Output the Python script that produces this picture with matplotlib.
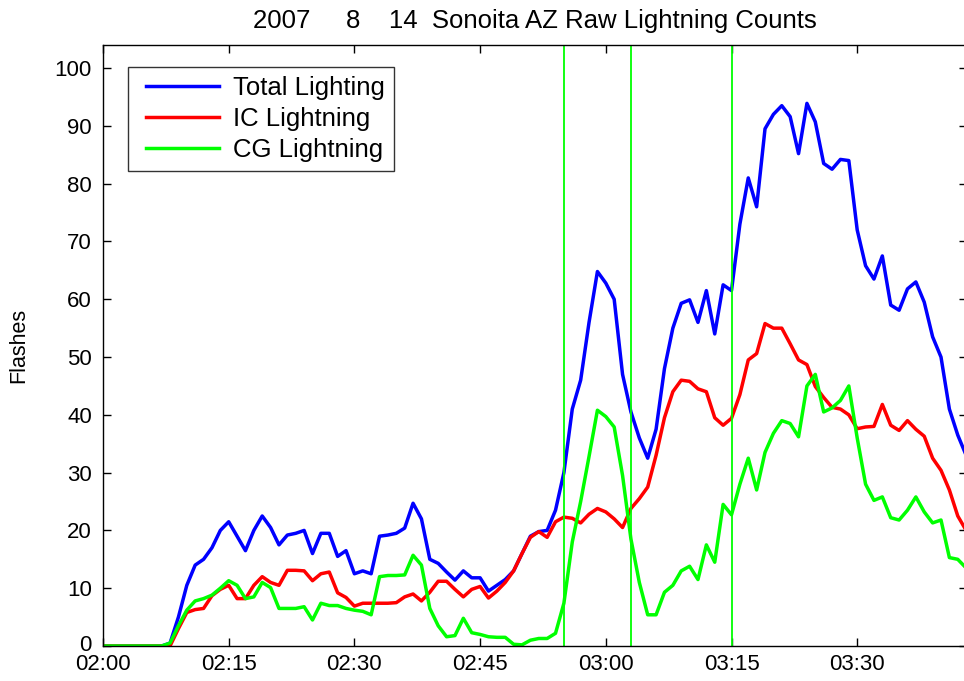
import matplotlib
matplotlib.use("Agg")
import matplotlib.pyplot as plt
import matplotlib.transforms as mtransforms
from matplotlib.legend_handler import HandlerLine2D
import numpy as np

# Minutes after 02:00 UTC, one sample per minute
minutes = list(range(0, 104))

total_flashes = [
    0, 0, 0, 0, 0, 0, 0, 0, 0.5, 5,
    10.5, 14, 15, 17, 20, 21.5, 19, 16.5, 20, 22.5,
    20.5, 17.5, 19.2, 19.5, 20, 16, 19.5, 19.5, 15.5, 16.5,
    12.5, 13, 12.5, 19, 19.2, 19.5, 20.4, 24.7, 22, 15,
    14.3, 12.8, 11.4, 13, 11.8, 11.8, 9.5, 10.5, 11.5, 13,
    16, 19, 19.8, 20, 23.5, 30, 41, 46, 56, 64.8,
    62.8, 60, 47, 40.5, 36, 32.5, 37.5, 48, 55, 59.3,
    59.9, 56, 61.5, 54, 62.5, 61.5, 73, 81, 76, 89.5,
    92, 93.5, 91.6, 85.2, 93.9, 90.7, 83.5, 82.5, 84.2, 84,
    72, 65.8, 63.5, 67.5, 59, 58.1, 61.8, 63, 59.5, 53.5,
    50, 41, 36.5, 33,
]

ic_flashes = [
    0, 0, 0, 0, 0, 0, 0, 0, 0, 3,
    5.8, 6.3, 6.5, 8.7, 9.8, 10.5, 8.2, 8.2, 10.5, 12,
    11, 10.5, 13.1, 13.1, 13, 11.3, 12.5, 12.8, 9.2, 8.4,
    6.9, 7.4, 7.4, 7.4, 7.4, 7.5, 8.5, 9, 7.8, 9.3,
    11.2, 11.2, 9.8, 8.5, 9.8, 10.3, 8.3, 9.5, 11, 13,
    16, 18.8, 19.8, 18.8, 21.5, 22.3, 22.1, 21.3, 22.8, 23.8,
    23.2, 22, 20.5, 23.8, 25.5, 27.5, 33, 39.5, 44, 46,
    45.8, 44.5, 44, 39.5, 38.2, 39.4, 43.5, 49.5, 50.6, 55.8,
    55, 55, 52.3, 49.5, 48.7, 44.9, 43, 41.3, 41, 40,
    37.6, 37.9, 38, 41.8, 38.2, 37.3, 39, 37.5, 36.3, 32.5,
    30.4, 27, 22.5, 20,
]

cg_flashes = [
    0, 0, 0, 0, 0, 0, 0, 0, 0.5, 3.5,
    6.2, 7.8, 8.2, 8.8, 10, 11.3, 10.5, 8.2, 8.5, 11,
    10.1, 6.5, 6.5, 6.5, 6.8, 4.5, 7.4, 7, 7, 6.5,
    6.2, 6, 5.4, 12, 12.2, 12.2, 12.3, 15.7, 14, 6.5,
    3.5, 1.6, 1.8, 4.8, 2.3, 2, 1.6, 1.5, 1.5, 0.3,
    0.2, 1, 1.3, 1.3, 2.2, 7.4, 18, 25, 32.8, 40.8,
    39.7, 37.9, 29.5, 18.5, 11, 5.4, 5.4, 9.3, 10.5, 13,
    13.8, 11.5, 17.5, 14.5, 24.5, 22.7, 28, 32.5, 27, 33.5,
    36.8, 39, 38.5, 36.2, 45, 47, 40.5, 41.2, 42.5, 45,
    36, 28, 25.2, 25.8, 22.2, 21.8, 23.5, 25.8, 23.2, 21.3,
    21.8, 15.3, 15, 13.5,
]

# Times (minutes after 02:00) of the marked events
event_minutes = [55, 63, 75]

tick_minutes = [0, 15, 30, 45, 60, 75, 90]
tick_labels = ["02:00", "02:15", "02:30", "02:45", "03:00", "03:15", "03:30"]
y_ticks = list(range(0, 101, 10))

plt.rcParams["font.family"] = ["Liberation Sans", "DejaVu Sans"]

fig = plt.figure(figsize=(9.64, 6.81), dpi=100)
# the plotting box runs a few pixels past the right edge of the canvas
ax = fig.add_axes([103 / 964, 1 - 646 / 681, (967 - 103) / 964, (646 - 45) / 681])

ax.plot(minutes, total_flashes, color=(0, 0, 1), lw=2.5, label="Total Lighting")
ax.plot(minutes, ic_flashes, color=(1, 0, 0), lw=2.5, label="IC Lightning")
ax.plot(minutes, cg_flashes, color=(0, 1, 0), lw=2.5, label="CG Lightning")

for m in event_minutes:
    ax.axvline(m, color=(0, 1, 0), lw=1.3)

ax.set_xlim(0, (967 - 103) / 8.38)
ax.set_ylim(0, 104)
ax.set_xticks(tick_minutes)
ax.set_xticklabels(tick_labels)
ax.set_yticks(y_ticks)
ax.tick_params(direction="in", top=True, right=True, length=6, width=1,
               labelsize=16)
ax.tick_params(axis="y", pad=8)
ax.tick_params(axis="x", pad=6)
for side in ax.spines.values():
    side.set_linewidth(1.0)

# lift the bottom y label slightly so it clears the first time label
zero_label = ax.get_yticklabels()[0]
zero_label.set_transform(zero_label.get_transform() +
                         mtransforms.ScaledTranslation(0, 3 / 100, fig.dpi_scale_trans))

ax.set_ylabel("Flashes", fontsize=15.5, labelpad=18)
ax.set_title("2007     8    14  Sonoita AZ Raw Lightning Counts", fontsize=18.5, pad=12)

leg = ax.legend(loc="upper left", bbox_to_anchor=(25 / 864, 1 - 22 / 601), fontsize=18.5,
                frameon=True, fancybox=False, handlelength=3.2, borderpad=0.35,
                labelspacing=0.27, handletextpad=0.55, borderaxespad=0,
                handler_map={plt.Line2D: HandlerLine2D(xpad=0.35)})
leg.get_frame().set_edgecolor("black")
leg.get_frame().set_linewidth(1.0)

fig.savefig("out.png", dpi=100)
